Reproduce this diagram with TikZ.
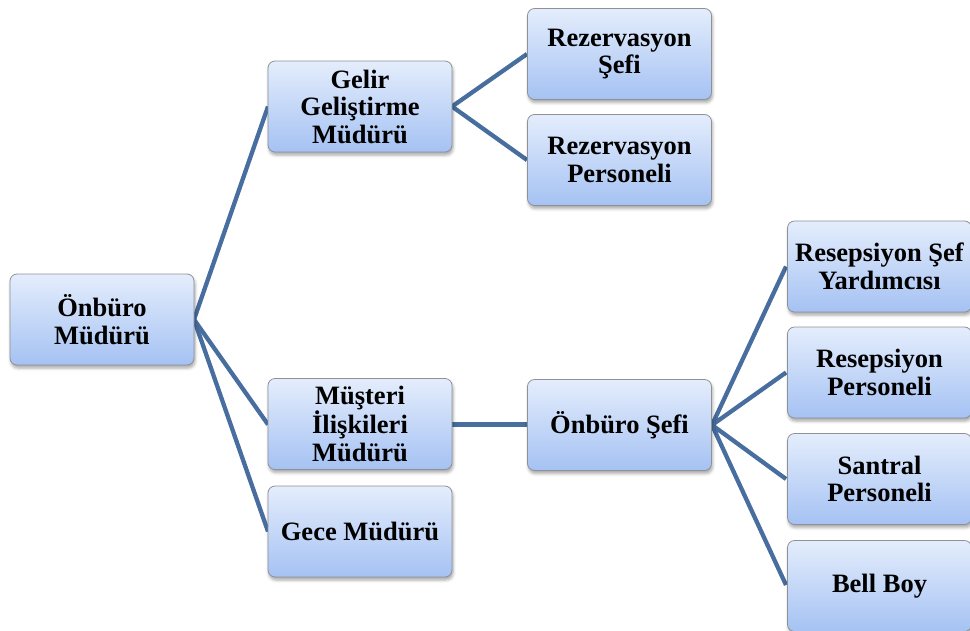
\documentclass[tikz,border=0pt]{standalone}
\usepackage{fontspec}
\setmainfont{Liberation Serif}
\usetikzlibrary{shadows.blur}
\definecolor{boxtop}{HTML}{E4EDFC}
\definecolor{boxbottom}{HTML}{A5C2F3}
\definecolor{boxline}{HTML}{8E9196}
\definecolor{linkblue}{HTML}{476E9E}
\tikzset{
  orgbox/.style={
    rectangle, rounded corners=7pt, draw=boxline, line width=0.8pt,
    top color=boxtop, bottom color=boxbottom,
    minimum width=184pt, minimum height=91pt, inner sep=2pt,
    align=center, font=\bfseries\fontsize{26.5}{27.5}\selectfont,
    blur shadow={shadow xshift=1pt, shadow yshift=-3pt, shadow blur radius=3pt, shadow opacity=35}
  },
  link/.style={draw=linkblue, line width=4.3pt}
}
\begin{document}
\begin{tikzpicture}[x=1pt,y=-1pt]
\useasboundingbox (0,0) rectangle (970,630);
% connectors first, boxes on top
\coordinate (pm) at (194,319.5);
\coordinate (pg) at (452,106.5);
\coordinate (pf) at (712,425);
\coordinate (gw) at (268,106.5);
\coordinate (mw) at (268,424.5);
\coordinate (cw) at (268,531.5);
\coordinate (me) at (452,424.5);
\coordinate (r1w) at (527,54);
\coordinate (r2w) at (527,160);
\coordinate (fw) at (527,424.5);
\coordinate (s1w) at (786,266.5);
\coordinate (s2w) at (786,372.5);
\coordinate (s3w) at (786,479);
\coordinate (s4w) at (786,585);
\draw[link] (gw) -- (pm) -- (mw);
\draw[link] (pm) -- (cw);
\draw[link] (r1w) -- (pg) -- (r2w);
\draw[link] (me) -- (fw);
\draw[link] (s1w) -- (pf) -- (s2w);
\draw[link] (s3w) -- (pf) -- (s4w);
% boxes
\node[orgbox] (onm) at (102,319.5) {Önbüro\\Müdürü};
\node[orgbox] (gel) at (360,106.5) {Gelir\\Geliştirme\\Müdürü};
\node[orgbox] (mus) at (360,424) {Müşteri\\İlişkileri\\Müdürü};
\node[orgbox] (gec) at (360,531.5) {Gece Müdürü};
\node[orgbox] (rzs) at (619.5,54) {Rezervasyon\\Şefi};
\node[orgbox] (rzp) at (619.5,160) {Rezervasyon\\Personeli};
\node[orgbox] (obs) at (619.5,425) {Önbüro Şefi};
\node[orgbox] (rsy) at (879.5,266.5) {Resepsiyon Şef\\Yardımcısı};
\node[orgbox] (rsp) at (879.5,372.5) {Resepsiyon\\Personeli};
\node[orgbox] (snt) at (879.5,479) {Santral\\Personeli};
\node[orgbox] (bel) at (879.5,586) {Bell Boy};
\end{tikzpicture}
\end{document}
